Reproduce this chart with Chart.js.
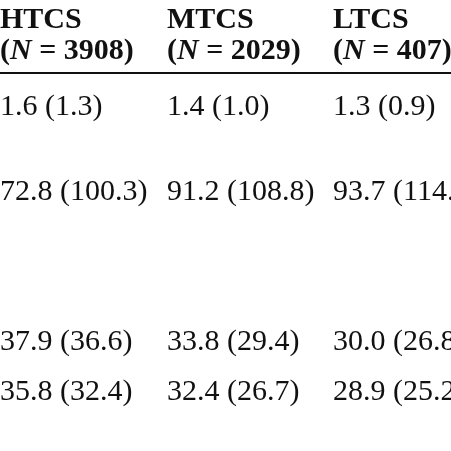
<!DOCTYPE html>
<html><head><meta charset="utf-8">
<script src="https://cdn.jsdelivr.net/npm/chart.js@4"></script>
<style>html,body{margin:0;padding:0;background:#fff}#c{display:block}</style>
</head><body>
<div style="width:451px;height:451px"><canvas id="c"></canvas></div>
<script>
const groups = ["HTCS","MTCS","LTCS"];
const groupN = ["3908","2029","407"];
const rowY = [105, 190, 340, 390];
const colX = [0, 167, 333];
const htcs = ["1.6 (1.3)","72.8 (100.3)","37.9 (36.6)","35.8 (32.4)"];
const mtcs = ["1.4 (1.0)","91.2 (108.8)","33.8 (29.4)","32.4 (26.7)"];
const ltcs = ["1.3 (0.9)","93.7 (114.5)","30.0 (26.8)","28.9 (25.2)"];
const cols = [htcs, mtcs, ltcs];
const points = [];
cols.forEach((c,i)=>c.forEach((v,j)=>points.push({x:colX[i], y:rowY[j], t:v})));
const F = '"Liberation Serif", "DejaVu Serif", serif';
const textPlugin = {
  id:'tbl',
  afterDraw(chart){
    const {ctx, scales:{x,y}} = chart;
    ctx.save();
    ctx.fillStyle='#111'; ctx.textBaseline='alphabetic'; ctx.textAlign='left';
    chart.data.datasets[0].data.forEach(p=>{
      ctx.font='30px '+F;
      ctx.fillText(p.t, x.getPixelForValue(p.x), y.getPixelForValue(p.y)+10);
    });
    groups.forEach((g,i)=>{
      let px = x.getPixelForValue(colX[i]);
      ctx.font='bold 30px '+F;
      ctx.fillText(g, px, y.getPixelForValue(28));
      const by = y.getPixelForValue(59);
      ctx.fillText('(', px, by); px += ctx.measureText('(').width;
      ctx.font='bold italic 30px '+F;
      ctx.fillText('N', px, by); px += ctx.measureText('N').width;
      ctx.font='bold 30px '+F;
      ctx.fillText(' = '+groupN[i]+')', px, by);
    });
    ctx.strokeStyle='#111'; ctx.lineWidth=2;
    ctx.beginPath();
    ctx.moveTo(x.getPixelForValue(0), y.getPixelForValue(73));
    ctx.lineTo(x.getPixelForValue(451), y.getPixelForValue(73));
    ctx.stroke();
    ctx.restore();
  }
};
new Chart(document.getElementById('c'), {
  type:'scatter',
  data:{datasets:[{data:points, pointRadius:0, showLine:false}]},
  options:{
    responsive:true, maintainAspectRatio:false, animation:false,
    layout:{padding:0},
    plugins:{legend:{display:false}, tooltip:{enabled:false}},
    scales:{
      x:{type:'linear', min:0, max:451, display:false},
      y:{type:'linear', min:0, max:451, reverse:true, display:false}
    }
  },
  plugins:[textPlugin]
});
</script>
</body></html>
